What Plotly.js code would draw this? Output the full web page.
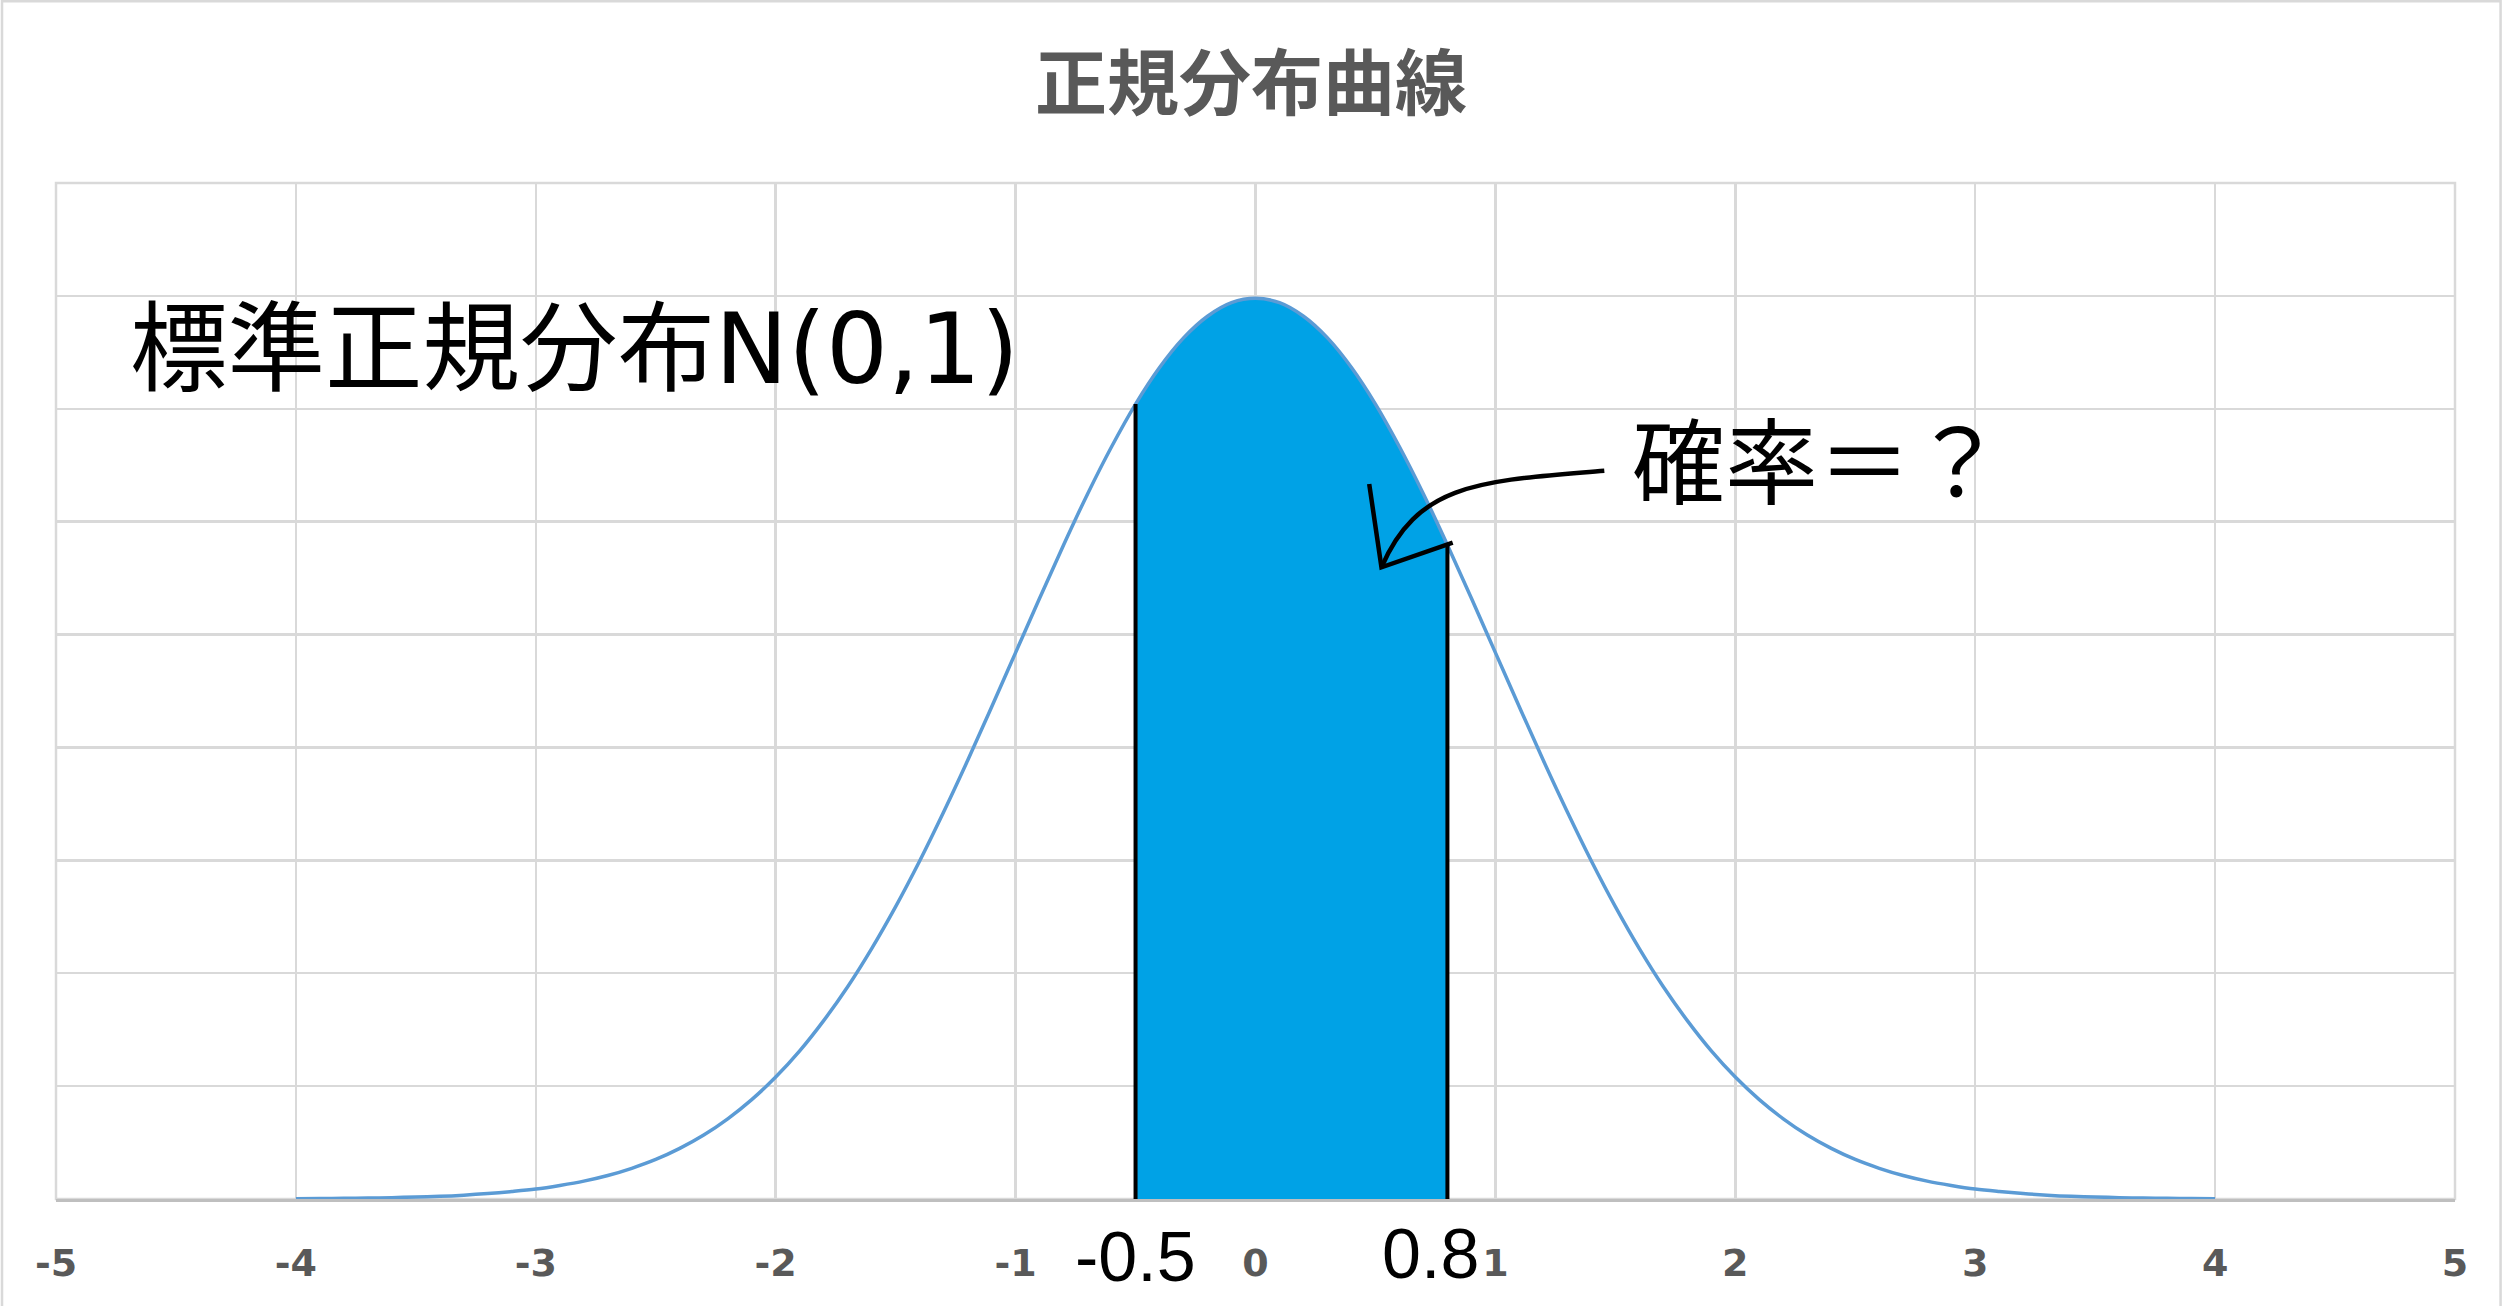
<!DOCTYPE html>
<html><head><meta charset="utf-8">
<script src="https://cdn.plot.ly/plotly-3.0.1.min.js"></script>
<style>html,body{margin:0;padding:0;background:#fff}#chart{width:2502px;height:1306px}</style>
</head><body><div id="chart"></div>
<script>
// ---- data ----
const xValues = [-4.0,-3.9,-3.8,-3.7,-3.6,-3.5,-3.4,-3.3,-3.2,-3.1,-3.0,-2.9,-2.8,-2.7,-2.6,-2.5,-2.4,-2.3,-2.2,-2.1,-2.0,-1.9,-1.8,-1.7,-1.6,-1.5,-1.4,-1.3,-1.2,-1.1,-1.0,-0.9,-0.8,-0.7,-0.6,-0.5,-0.4,-0.3,-0.2,-0.1,0.0,0.1,0.2,0.3,0.4,0.5,0.6,0.7,0.8,0.9,1.0,1.1,1.2,1.3,1.4,1.5,1.6,1.7,1.8,1.9,2.0,2.1,2.2,2.3,2.4,2.5,2.6,2.7,2.8,2.9,3.0,3.1,3.2,3.3,3.4,3.5,3.6,3.7,3.8,3.9,4.0];
const densityValues = [0.0001,0.0002,0.0003,0.0004,0.0006,0.0009,0.0012,0.0017,0.0024,0.0033,0.0044,0.0060,0.0079,0.0104,0.0136,0.0175,0.0224,0.0283,0.0355,0.0440,0.0540,0.0656,0.0790,0.0940,0.1109,0.1295,0.1497,0.1714,0.1942,0.2179,0.2420,0.2661,0.2897,0.3123,0.3332,0.3521,0.3683,0.3814,0.3910,0.3970,0.3989,0.3970,0.3910,0.3814,0.3683,0.3521,0.3332,0.3123,0.2897,0.2661,0.2420,0.2179,0.1942,0.1714,0.1497,0.1295,0.1109,0.0940,0.0790,0.0656,0.0540,0.0440,0.0355,0.0283,0.0224,0.0175,0.0136,0.0104,0.0079,0.0060,0.0044,0.0033,0.0024,0.0017,0.0012,0.0009,0.0006,0.0004,0.0003,0.0002,0.0001];
const shadeBounds = [-0.5, 0.8];
const shadeBoundLabels = ['-0.5', '0.8'];
const xTickValues = [-5,-4,-3,-2,-1,0,1,2,3,4,5];
const xTickLabels = ['-5','-4','-3','-2','-1','0','1','2','3','4','5'];
const chartTitle = '正規分布曲線';
const curveLabel = '標準正規分布N(0,1)';
const questionLabel = '確率＝？';

// ---- build traces ----
const eps = 1e-9;
const shadeX = [], shadeY = [];
xValues.forEach((x, i) => {
  if (x >= shadeBounds[0] - eps && x <= shadeBounds[1] + eps) { shadeX.push(x); shadeY.push(densityValues[i]); }
});
function densityAt(v) { return densityValues[xValues.findIndex(x => Math.abs(x - v) < eps)]; }

const traces = [
  { x: shadeX, y: shadeY, type: 'scatter', mode: 'lines', fill: 'tozeroy',
    fillcolor: '#00A2E6', line: { width: 0, color: '#00A2E6', shape: 'spline' }, hoverinfo: 'skip' },
  { x: xValues, y: densityValues, type: 'scatter', mode: 'lines',
    line: { color: '#5B9BD5', width: 3.5, shape: 'spline' }, hoverinfo: 'skip' }
];
shadeBounds.forEach(b => {
  traces.push({ x: [b, b], y: [0, densityAt(b)], type: 'scatter', mode: 'lines',
    line: { color: '#000000', width: 4 }, hoverinfo: 'skip' });
});

const cjk = '"Noto Sans CJK JP", "Noto Sans", sans-serif';
const mixed = '"DejaVu Sans", "Noto Sans CJK JP", sans-serif';
const annotations = [
  { text: curveLabel, xref: 'x', yref: 'y', x: -4.7, y: 0.3765, xanchor: 'left', yanchor: 'middle',
    showarrow: false, font: { family: mixed, size: 97.5, color: '#000000' } },
  { text: questionLabel, xref: 'x', yref: 'y', x: 2.345, y: 0.329, xanchor: 'center', yanchor: 'middle',
    showarrow: false, font: { family: cjk, size: 93, color: '#000000' } },
  { text: shadeBoundLabels[0], xref: 'x', yref: 'paper', x: shadeBounds[0], y: 0, yshift: -58,
    xanchor: 'center', yanchor: 'middle', showarrow: false,
    font: { family: '"Liberation Sans", Arial, sans-serif', size: 70, color: '#000000' } },
  { text: shadeBoundLabels[1], xref: 'x', yref: 'paper', x: shadeBounds[1], y: 0, yshift: -55, xshift: -17,
    xanchor: 'center', yanchor: 'middle', showarrow: false,
    font: { family: '"Liberation Sans", Arial, sans-serif', size: 70, color: '#000000' } }
];

const shapes = [
  // plot area frame (grid colour)
  { type: 'rect', xref: 'paper', yref: 'paper', x0: 0, x1: 1, y0: 0, y1: 1,
    line: { color: '#d9d9d9', width: 2.5 }, layer: 'below' },
  // hand-drawn style arrow pointing at the shaded area
  { type: 'path', xref: 'x', yref: 'y', path: 'M 1.454,0.3226 C 0.95,0.318 0.68,0.318 0.525,0.2798',
    line: { color: '#000000', width: 4.5 } },
  { type: 'path', xref: 'x', yref: 'y', path: 'M 0.474,0.3167 L 0.525,0.2798 L 0.822,0.2907',
    line: { color: '#000000', width: 4.5 } },
  // chart area border (top, left, right)
  { type: 'rect', xref: 'paper', yref: 'paper', x0: -0.0225, x1: 1.0190, y0: -0.12, y1: 1.1790,
    line: { color: '#d9d9d9', width: 2.5 }, layer: 'below' }
];

const layout = {
  width: 2502, height: 1306,
  margin: { l: 56, r: 47, t: 183, b: 107 },
  paper_bgcolor: '#ffffff', plot_bgcolor: '#ffffff',
  showlegend: false,
  title: { text: chartTitle, x: 0.5, xanchor: 'center', y: 0.936, yanchor: 'middle',
    font: { family: cjk, size: 72, color: '#595959', weight: 'bold' } },
  xaxis: { range: [-5, 5], tickmode: 'array', tickvals: xTickValues, ticktext: xTickLabels,
    showgrid: true, gridcolor: '#d9d9d9', gridwidth: 2.5, zeroline: false,
    showline: true, linecolor: '#bfbfbf', linewidth: 3, ticks: '', ticklabelstandoff: 28,
    tickfont: { family: '"DejaVu Sans", sans-serif', size: 38, color: '#595959', weight: 'bold' } },
  yaxis: { range: [0, 0.45], dtick: 0.05, tick0: 0, showticklabels: false,
    showgrid: true, gridcolor: '#d9d9d9', gridwidth: 2.5, zeroline: false, showline: false, ticks: '' },
  annotations: annotations,
  shapes: shapes
};

Plotly.newPlot('chart', traces, layout, { staticPlot: true, displayModeBar: false });
</script></body></html>
